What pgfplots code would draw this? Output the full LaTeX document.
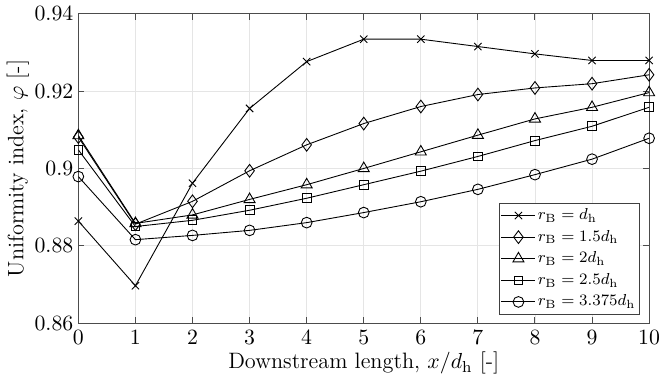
\documentclass[border=0pt]{standalone}
\usepackage{pgfplots}
\pgfplotsset{compat=1.18}
\begin{document}
\begin{tikzpicture}
\begin{axis}[
  scale only axis,
  width=287pt, height=155.7pt,
  xmin=0, xmax=10, ymin=0.86, ymax=0.94,
  xtick={0,1,...,10},
  ytick={0.86,0.88,0.9,0.92,0.94},
  yticklabel style={/pgf/number format/fixed, /pgf/number format/precision=2},
  tick label style={font=\fontsize{11}{13}\selectfont},
  xticklabel style={inner xsep=0pt},
  label style={font=\fontsize{11.2}{13}\selectfont},
  grid=major,
  grid style={gray!20, line width=0.4pt},
  axis line style={black!70, line width=0.5pt},
  tick style={black!70, line width=0.5pt},
  tick align=inside,
  major tick length=3pt,
  xlabel={Downstream length, $x/d_\mathrm{h}$ [-]},
  ylabel={Uniformity index, $\varphi$ [-]},
  xlabel style={yshift=3pt},
  ylabel style={yshift=-4pt},
  yticklabel style={xshift=1pt},
  legend style={draw=black!75, line width=0.4pt, at={(0.983,0.027)}, anchor=south east, inner sep=0.8pt, row sep=-0.2pt, font=\fontsize{8.4}{10}\selectfont, nodes={inner xsep=1pt}},
  legend image code/.code={\draw[mark repeat=2,mark phase=2] plot coordinates {(0cm,0cm)(0.3cm,0cm)(0.6cm,0cm)};},
  legend cell align=left,
  every axis plot/.append style={black, line width=0.45pt, mark options={solid, fill=white, line width=0.45pt}},
]
\addplot[mark=x, mark size=2.6pt] coordinates {
(0,0.8864) (1,0.8697) (2,0.8962) (3,0.9155) (4,0.9276) (5,0.9334) (6,0.9334) (7,0.9315) (8,0.9296) (9,0.9279) (10,0.9279)};
\addlegendentry{$r_\mathrm{B}=d_\mathrm{h}$}
\addplot[mark=diamond, mark size=3.2pt] coordinates {
(0,0.9081) (1,0.8856) (2,0.8915) (3,0.8994) (4,0.9061) (5,0.9116) (6,0.9160) (7,0.9191) (8,0.9208) (9,0.9219) (10,0.9242)};
\addlegendentry{$r_\mathrm{B}=1.5d_\mathrm{h}$}
\addplot[mark=triangle, mark size=3.2pt] coordinates {
(0,0.9085) (1,0.8858) (2,0.8880) (3,0.8920) (4,0.8958) (5,0.9000) (6,0.9043) (7,0.9086) (8,0.9128) (9,0.9158) (10,0.9196)};
\addlegendentry{$r_\mathrm{B}=2d_\mathrm{h}$}
\addplot[mark=square, mark size=2.2pt] coordinates {
(0,0.9048) (1,0.8850) (2,0.8866) (3,0.8892) (4,0.8923) (5,0.8958) (6,0.8993) (7,0.9031) (8,0.9072) (9,0.9109) (10,0.9158)};
\addlegendentry{$r_\mathrm{B}=2.5d_\mathrm{h}$}
\addplot[mark=o, mark size=2.7pt] coordinates {
(0,0.8979) (1,0.8816) (2,0.8827) (3,0.8840) (4,0.8860) (5,0.8886) (6,0.8914) (7,0.8946) (8,0.8984) (9,0.9024) (10,0.9078)};
\addlegendentry{$r_\mathrm{B}=3.375d_\mathrm{h}$}
\end{axis}
\end{tikzpicture}
\end{document}
